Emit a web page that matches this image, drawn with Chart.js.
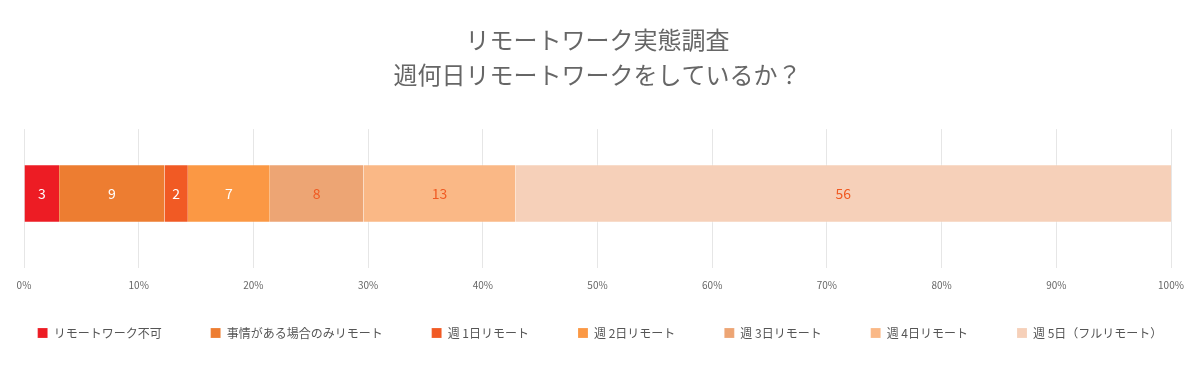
<!DOCTYPE html>
<html>
<head>
<meta charset="utf-8">
<script src="https://cdn.jsdelivr.net/npm/chart.js@4/dist/chart.umd.min.js"></script>
<style>
  html, body { margin: 0; padding: 0; background: #fff; }
  #wrap { width: 1200px; height: 369px; }
</style>
</head>
<body>
<div id="wrap"><canvas id="myChart"></canvas></div>
<script>
const categories = ['リモートワーク実態調査'];
const seriesNames = [
  'リモートワーク不可',
  '事情がある場合のみリモート',
  '週 1日リモート',
  '週 2日リモート',
  '週 3日リモート',
  '週 4日リモート',
  '週 5日（フルリモート）'
];
const seriesValues = [3, 9, 2, 7, 8, 13, 56];
const seriesColors = ['#ed1c24', '#ed7d31', '#f15a24', '#fb9844', '#eda574', '#fab886', '#f6d0b9'];
const labelColors = ['#ffffff', '#ffffff', '#ffffff', '#ffffff', '#f05a22', '#f05a22', '#f05a22'];
const xTicks = ['0%', '10%', '20%', '30%', '40%', '50%', '60%', '70%', '80%', '90%', '100%'];

const FONT = '"Noto Sans CJK JP", "Noto Sans", sans-serif';
const LEGEND_PAD = 49;
const total = seriesValues.reduce((a, b) => a + b, 0);

const ctx = document.getElementById('myChart').getContext('2d');

// value labels in the middle of each segment
const segmentLabels = {
  id: 'segmentLabels',
  afterDatasetsDraw(chart) {
    const c = chart.ctx;
    c.save();
    c.font = '14px ' + FONT;
    c.textAlign = 'center';
    c.textBaseline = 'middle';
    chart.data.datasets.forEach((ds, i) => {
      chart.getDatasetMeta(i).data.forEach(bar => {
        c.fillStyle = labelColors[i];
        c.fillText(String(seriesValues[i]), (bar.x + bar.base) / 2, bar.y);
      });
    });
    c.restore();
  }
};

// keep the legend on one wide row without the tall vertical padding
const legendTweak = {
  id: 'legendTweak',
  afterInit(chart) {
    const lg = chart.legend;
    const fit = lg.fit.bind(lg);
    lg.fit = function () {
      this.maxWidth = 2000;
      fit();
      this.height = 67;
    };
  },
  afterLayout(chart) {
    const lg = chart.legend;
    lg.left = -200;
    lg.right = chart.width + 200;
    lg.width = chart.width + 400;
    lg.top -= 24;
    lg.bottom -= 24;
  }
};

const data = {
  labels: categories,
  datasets: seriesNames.map((name, i) => ({
    label: name,
    data: [seriesValues[i] / total * 100],
    backgroundColor: seriesColors[i],
    borderColor: 'rgba(255,255,255,0.35)',
    borderWidth: { top: 1, bottom: 1, left: 0, right: 0 },
    borderSkipped: false,
    categoryPercentage: 1,
    barPercentage: 0.453
  }))
};

const config = {
  type: 'bar',
  data: data,
  plugins: [segmentLabels, legendTweak],
  options: {
    indexAxis: 'y',
    responsive: true,
    maintainAspectRatio: false,
    animation: false,
    layout: {
      padding: { left: 24, right: 29, top: 0, bottom: 0 }
    },
    plugins: {
      title: {
        display: true,
        text: ['リモートワーク実態調査', '週何日リモートワークをしているか？'],
        color: '#666666',
        font: { family: FONT, size: 24, weight: 'normal', lineHeight: 1.46 },
        padding: { top: 22, bottom: 37 }
      },
      legend: {
        position: 'bottom',
        labels: {
          color: '#555555',
          font: { family: FONT, size: 12 },
          boxWidth: 10,
          boxHeight: 10,
          padding: LEGEND_PAD
        }
      },
      tooltip: { enabled: false }
    },
    scales: {
      x: {
        stacked: true,
        min: 0,
        max: 100,
        ticks: {
          stepSize: 10,
          color: '#666666',
          font: { family: FONT, size: 10 },
          padding: 11,
          callback: (v, i) => xTicks[i]
        },
        grid: { color: '#e6e6e6', tickLength: 10 },
        border: { display: false }
      },
      y: {
        stacked: true,
        display: false
      }
    }
  }
};

new Chart(ctx, config);
</script>
</body>
</html>
